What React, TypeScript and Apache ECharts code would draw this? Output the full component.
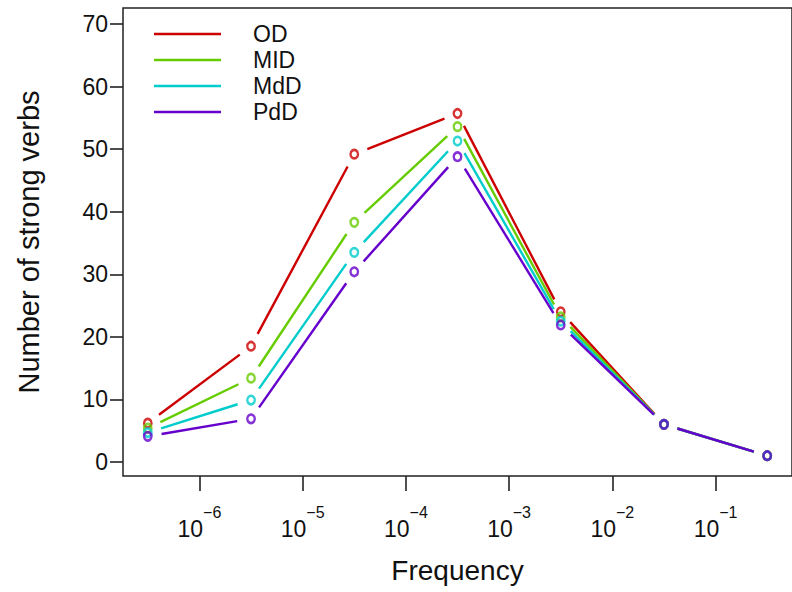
import React, { useEffect, useRef } from "react";
import * as echarts from "echarts";

// log10 of frequency bin centres
const logFrequency = [-6.5, -5.5, -4.5, -3.5, -2.5, -1.5, -0.5];
const seriesNames = ["OD", "MID", "MdD", "PdD"];
const seriesColors = ["#CC0000", "#66CC00", "#00CCCC", "#6600CC"];
const odValues = [6.2, 18.5, 49.2, 55.7, 24.0, 6, 1];
const midValues = [5.4, 13.4, 38.3, 53.6, 23.2, 6, 1];
const mddValues = [4.7, 9.9, 33.5, 51.3, 22.5, 6, 1];
const pddValues = [4.1, 6.9, 30.4, 48.8, 21.9, 6, 1];
const seriesValues = [odValues, midValues, mddValues, pddValues];
const yTicks = [0, 10, 20, 30, 40, 50, 60, 70];
const xTicks = [-6, -5, -4, -3, -2, -1];

const FONT = "'Liberation Sans', Arial, sans-serif";
const TEXT = "#111";
const GAP = 14;

export default function App() {
  const ref = useRef<HTMLDivElement>(null);
  useEffect(() => {
    if (!ref.current) return;
    const chart = echarts.init(ref.current, undefined, { renderer: "svg" });
    const series: any[] = [];
    seriesNames.forEach((name, k) => {
      const ys = seriesValues[k];
      const color = seriesColors[k];
      const data = logFrequency.map((x, i) => [x, ys[i]]);
      series.push({
        type: "custom",
        name,
        coordinateSystem: "cartesian2d",
        encode: { x: 0, y: 1 },
        data,
        renderItem: (params: any, api: any) => {
          const i = params.dataIndex;
          if (i >= logFrequency.length - 1) return null;
          const p1 = api.coord([logFrequency[i], ys[i]]);
          const p2 = api.coord([logFrequency[i + 1], ys[i + 1]]);
          const dx = p2[0] - p1[0];
          const dy = p2[1] - p1[1];
          const len = Math.sqrt(dx * dx + dy * dy);
          if (len <= 2 * GAP) return null;
          const ux = dx / len;
          const uy = dy / len;
          return {
            type: "line",
            shape: {
              x1: p1[0] + ux * GAP,
              y1: p1[1] + uy * GAP,
              x2: p2[0] - ux * GAP,
              y2: p2[1] - uy * GAP,
            },
            style: { stroke: color, lineWidth: 2.4, fill: null },
          };
        },
      });
      series.push({
        type: "scatter",
        name,
        data,
        symbol: "circle",
        symbolSize: [7.5, 8.5],
        itemStyle: { color: "rgba(0,0,0,0)", borderColor: color, borderWidth: 2.5 },
        emphasis: { disabled: true },
      });
    });

    chart.setOption({
      animation: false,
      grid: {
        left: 123,
        top: 8,
        right: -4,
        bottom: 116,
        show: true,
        borderColor: "#222",
        borderWidth: 1.5,
        backgroundColor: "rgba(0,0,0,0)",
      },
      legend: {
        orient: "vertical",
        left: 154,
        top: 21,
        padding: 0,
        itemWidth: 67,
        itemHeight: 2.5,
        itemGap: 0,
        selectedMode: false,
        data: seriesNames.map((n, k) => ({
          name: n,
          icon: "rect",
          itemStyle: { color: seriesColors[k] },
        })),
        textStyle: {
          fontSize: 23,
          lineHeight: 26,
          color: TEXT,
          fontFamily: FONT,
          padding: [0, 0, 0, 27],
        },
      },
      xAxis: {
        type: "value",
        min: -6.74,
        max: -0.26,
        axisLine: { show: false, onZero: false },
        splitLine: { show: false },
        axisTick: {
          show: true,
          customValues: xTicks,
          length: 15,
          lineStyle: { color: "#222", width: 1.6 },
        },
        axisLabel: {
          customValues: xTicks,
          margin: 28,
          formatter: (v: number) => `{a|10}{b|\u2212${Math.abs(v)}}`,
          rich: {
            a: { fontSize: 23, lineHeight: 36, verticalAlign: "bottom", fontFamily: FONT, color: TEXT },
            b: { fontSize: 16, lineHeight: 16, verticalAlign: "top", fontFamily: FONT, color: TEXT },
          },
        },
        name: "Frequency",
        nameLocation: "middle",
        nameGap: 80,
        nameTextStyle: { fontSize: 28, fontFamily: FONT, color: TEXT },
      },
      yAxis: {
        type: "value",
        min: -2.24,
        max: 72.56,
        axisLine: { show: false, onZero: false },
        splitLine: { show: false },
        axisTick: {
          show: true,
          customValues: yTicks,
          length: 13,
          lineStyle: { color: "#222", width: 1.6 },
        },
        axisLabel: {
          customValues: yTicks,
          margin: 15,
          fontSize: 23,
          fontFamily: FONT,
          color: TEXT,
        },
        name: "Number of strong verbs",
        nameLocation: "middle",
        nameGap: 80,
        nameTextStyle: { fontSize: 29, fontFamily: FONT, color: TEXT },
      },
      series,
    });
    return () => chart.dispose();
  }, []);
  return (
    <div
      ref={ref}
      style={{ position: "fixed", left: 0, top: 0, width: 792, height: 592, background: "#fff" }}
    />
  );
}
